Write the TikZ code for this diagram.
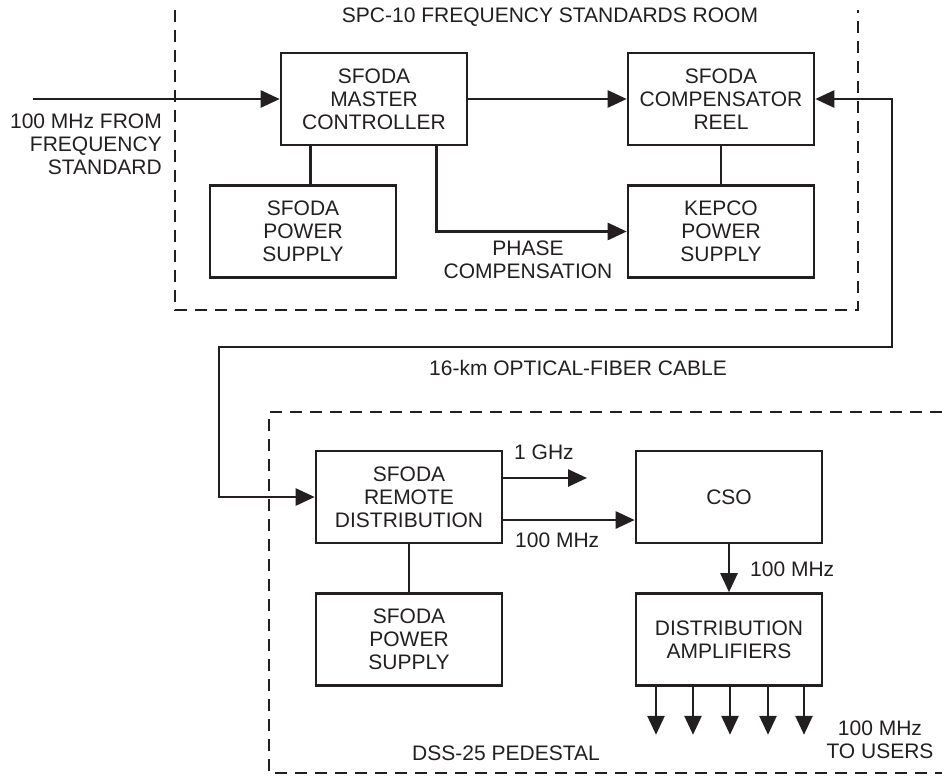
\documentclass[tikz,border=0pt]{standalone}
\usepackage{fontspec}
\setmainfont{Liberation Sans}
\usetikzlibrary{arrows.meta,calc}
\definecolor{ink}{RGB}{35,31,32}
\begin{document}
\begin{tikzpicture}[x=1pt,y=-1pt, color=ink,
  every node/.style={font=\fontsize{21}{23}\selectfont, inner sep=0pt, text=ink},
  box/.style={draw, line width=2.6pt, minimum width=186pt, minimum height=92pt, align=center},
  lbl/.style={align=center},
  conn/.style={line width=2.6pt},
  arr/.style={line width=2.6pt, -{Triangle[length=19pt,width=17pt]}},
  biarr/.style={line width=2.6pt, {Triangle[length=19pt,width=17pt]}-{Triangle[length=19pt,width=17pt]}},
  dashbox/.style={line width=2.6pt, dash pattern=on 12pt off 8pt}]
\useasboundingbox (0,0) rectangle (942,777);

% dashed enclosures
\draw[dashbox] (175,10) -- (175,310) -- (858,310) -- (858,10);
\draw[dashbox] (942,412) -- (269,412) -- (269,773) -- (942,773);

% boxes
\node[box] (master) at (374,99) {SFODA\\MASTER\\CONTROLLER};
\node[box] (comp) at (721,99) {SFODA\\COMPENSATOR\\REEL};
\node[box] (pwrA) at (303,231.5) {SFODA\\POWER\\SUPPLY};
\node[box] (kepco) at (721,231.5) {KEPCO\\POWER\\SUPPLY};
\node[box] (remote) at (409,497) {SFODA\\REMOTE\\DISTRIBUTION};
\node[box] (pwrB) at (409,639.5) {SFODA\\POWER\\SUPPLY};
\node[box] (cso) at (729,497) {CSO};
\node[box] (amps) at (729,639.5) {DISTRIBUTION\\AMPLIFIERS};

% labels
\node[lbl] (title) at (550,17) {SPC-10 FREQUENCY STANDARDS ROOM};
\node[align=right, anchor=east] (inlbl) at (162,144) {100 MHz FROM\\FREQUENCY\\STANDARD};
\node[lbl] (phase) at (528,260) {PHASE\\COMPENSATION};
\node[lbl] (fiber) at (578,368) {16-km OPTICAL-FIBER CABLE};
\node[anchor=west] (ghz) at (514,452) {1 GHz};
\node[anchor=west] (mhzA) at (515,540) {100 MHz};
\node[anchor=west] (mhzB) at (750,569) {100 MHz};
\node[lbl] (dss) at (506,753) {DSS-25 PEDESTAL};
\node[lbl] (users) at (880,740) {100 MHz\\TO USERS};

% connectors
\coordinate (in) at (33,99);
\draw[arr] (in) -- (master.west);
\draw[arr] (master.east) -- (comp.west);
\draw[conn] (master.south west) ++(31,0) coordinate (m1) -- (m1 |- pwrA.north);
\draw[arr] (master.south west) ++(157,0) |- (kepco.west);
\draw[conn] (comp.south) -- (kepco.north);

\coordinate (f1) at (892,347);
\coordinate (f2) at (219,347);
\draw[biarr] (comp.east) -| (f1) -- (f2) |- (remote.west);

\draw[conn] (remote.south) -- (pwrB.north);
\coordinate (g1) at (587,478);
\draw[arr] (g1 -| remote.east) -- (g1);
\coordinate (h1) at (600,520);
\draw[arr] (h1 -| remote.east) -- (h1 -| cso.west);
\draw[arr] (cso.south) -- (amps.north);
\foreach \d in {-73,-36,1,39,75}
  \draw[arr] ($(amps.south)+(\d,0)$) -- ++(0,48);
\end{tikzpicture}
\end{document}
